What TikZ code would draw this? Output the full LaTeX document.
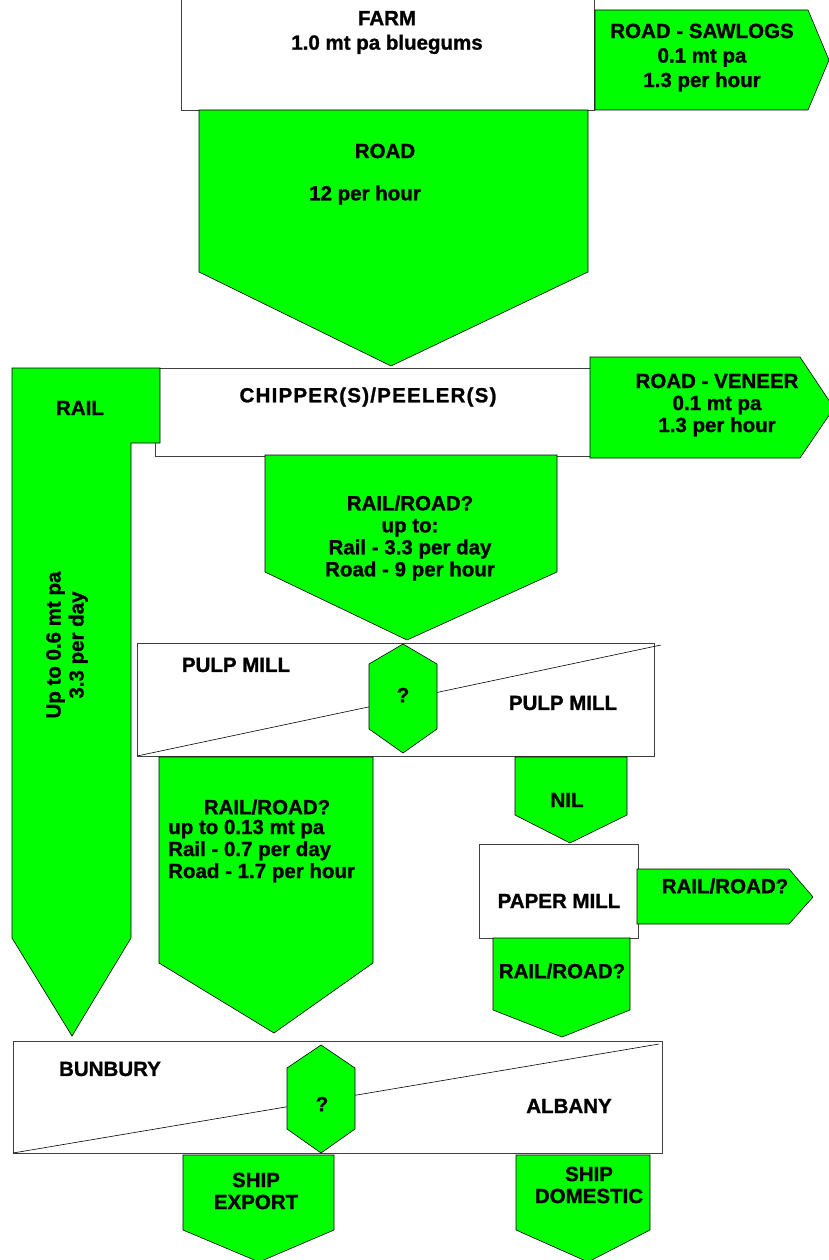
\documentclass[tikz,border=0pt]{standalone}
\usepackage{fontspec}
\setmainfont{Liberation Sans}[BoldFeatures={FakeBold=1.2}]
\definecolor{flowgreen}{RGB}{0,255,0}
\begin{document}
\begin{tikzpicture}[x=1pt, y=-1pt, flow/.style={draw=black, fill=flowgreen, line width=0.6pt, line join=miter}, whitebox/.style={draw=black!75, fill=white, line width=0.6pt}, lbl/.style={font=\fontsize{20.5}{22}\selectfont\bfseries, align=center, inner sep=0pt}]
\useasboundingbox (0,0) rectangle (828,1260);
\draw[whitebox] (181,-5) rectangle (594,110);
\draw[flow] (595,10) -- (808,10) -- (829,60) -- (808,110) -- (595,110) -- cycle;
\draw[flow] (199,110) -- (588,110) -- (588,272) -- (391,366) -- (199,272) -- cycle;
\draw[whitebox] (155,368) rectangle (590,456);
\draw[flow] (12,368) -- (160,368) -- (160,443) -- (131,443) -- (131,938) -- (72,1036) -- (12,938) -- cycle;
\draw[flow] (590,357) -- (800,357) -- (834,408) -- (800,458) -- (590,458) -- cycle;
\draw[flow] (265,455) -- (557,455) -- (557,572) -- (407,640) -- (265,572) -- cycle;
\draw[whitebox] (137,643) rectangle (654,756);
\draw[black, line width=0.6pt] (137,756) -- (661,645);
\draw[flow] (403,644) -- (437,664) -- (437,729) -- (403,753) -- (369,729) -- (369,664) -- cycle;
\draw[flow] (159,757) -- (373,757) -- (373,963) -- (274,1033) -- (159,963) -- cycle;
\draw[flow] (515,757) -- (627,757) -- (627,815) -- (570,843) -- (515,815) -- cycle;
\draw[whitebox] (479,844) rectangle (638,938);
\draw[flow] (637,869) -- (789,869) -- (813,897) -- (789,924) -- (637,924) -- cycle;
\draw[flow] (493,938) -- (630,938) -- (630,1010) -- (562,1037) -- (493,1010) -- cycle;
\draw[whitebox] (13,1041) rectangle (662,1153);
\draw[black, line width=0.6pt] (13,1153) -- (659,1044);
\draw[flow] (321,1045) -- (355,1068) -- (355,1129) -- (321,1153) -- (287,1129) -- (287,1068) -- cycle;
\draw[flow] (183,1155) -- (334,1155) -- (334,1230) -- (259,1262) -- (183,1230) -- cycle;
\draw[flow] (516,1155) -- (650,1155) -- (650,1230) -- (588,1262) -- (516,1230) -- cycle;
\node[lbl, font=\fontsize{20.5}{24.5}\selectfont\bfseries] (farm) at (387,32.5) {FARM\\1.0 mt pa bluegums};
\node[lbl, font=\fontsize{20.5}{24.5}\selectfont\bfseries] (sawlogs) at (702,57.5) {ROAD - SAWLOGS\\0.1 mt pa\\1.3 per hour};
\node[lbl] (road) at (385,151) {ROAD};
\node[lbl] (roadrate) at (365,195) {12 per hour};
\node[lbl] (chipper) at (368,397) {\addfontfeature{LetterSpace=6}CHIPPER(S)/PEELER(S)};
\node[lbl] (rail) at (80,408) {RAIL};
\node[lbl, rotate=90, font=\fontsize{20.5}{23}\selectfont\bfseries] (railrate) at (67,645) {Up to 0.6 mt pa\\3.3 per day};
\node[lbl] (veneer) at (717,405) {ROAD - VENEER\\0.1 mt pa\\1.3 per hour};
\node[lbl] (midroute) at (410,538) {RAIL/ROAD?\\up to:\\Rail - 3.3 per day\\Road - 9 per hour};
\node[lbl] (pulpleft) at (236,665) {PULP MILL};
\node[lbl] (pulpright) at (563,703) {PULP MILL};
\node[lbl] (pulpq) at (403,695) {?};
\node[lbl] (leftroute) at (267,807) {RAIL/ROAD?};
\node[lbl, align=left, anchor=west] (leftrates) at (168,851) {up to 0.13 mt pa\\Rail - 0.7 per day\\Road - 1.7 per hour};
\node[lbl] (nil) at (567,800) {NIL};
\node[lbl] (paper) at (559,901) {PAPER MILL};
\node[lbl] (paperout) at (725,886) {RAIL/ROAD?};
\node[lbl] (paperdown) at (562,971) {RAIL/ROAD?};
\node[lbl] (bunbury) at (110,1069) {BUNBURY};
\node[lbl] (albany) at (569,1106) {ALBANY};
\node[lbl] (portq) at (322,1104) {?};
\node[lbl] (export) at (256,1191) {SHIP\\EXPORT};
\node[lbl] (domestic) at (589,1185) {SHIP\\DOMESTIC};
\end{tikzpicture}
\end{document}
